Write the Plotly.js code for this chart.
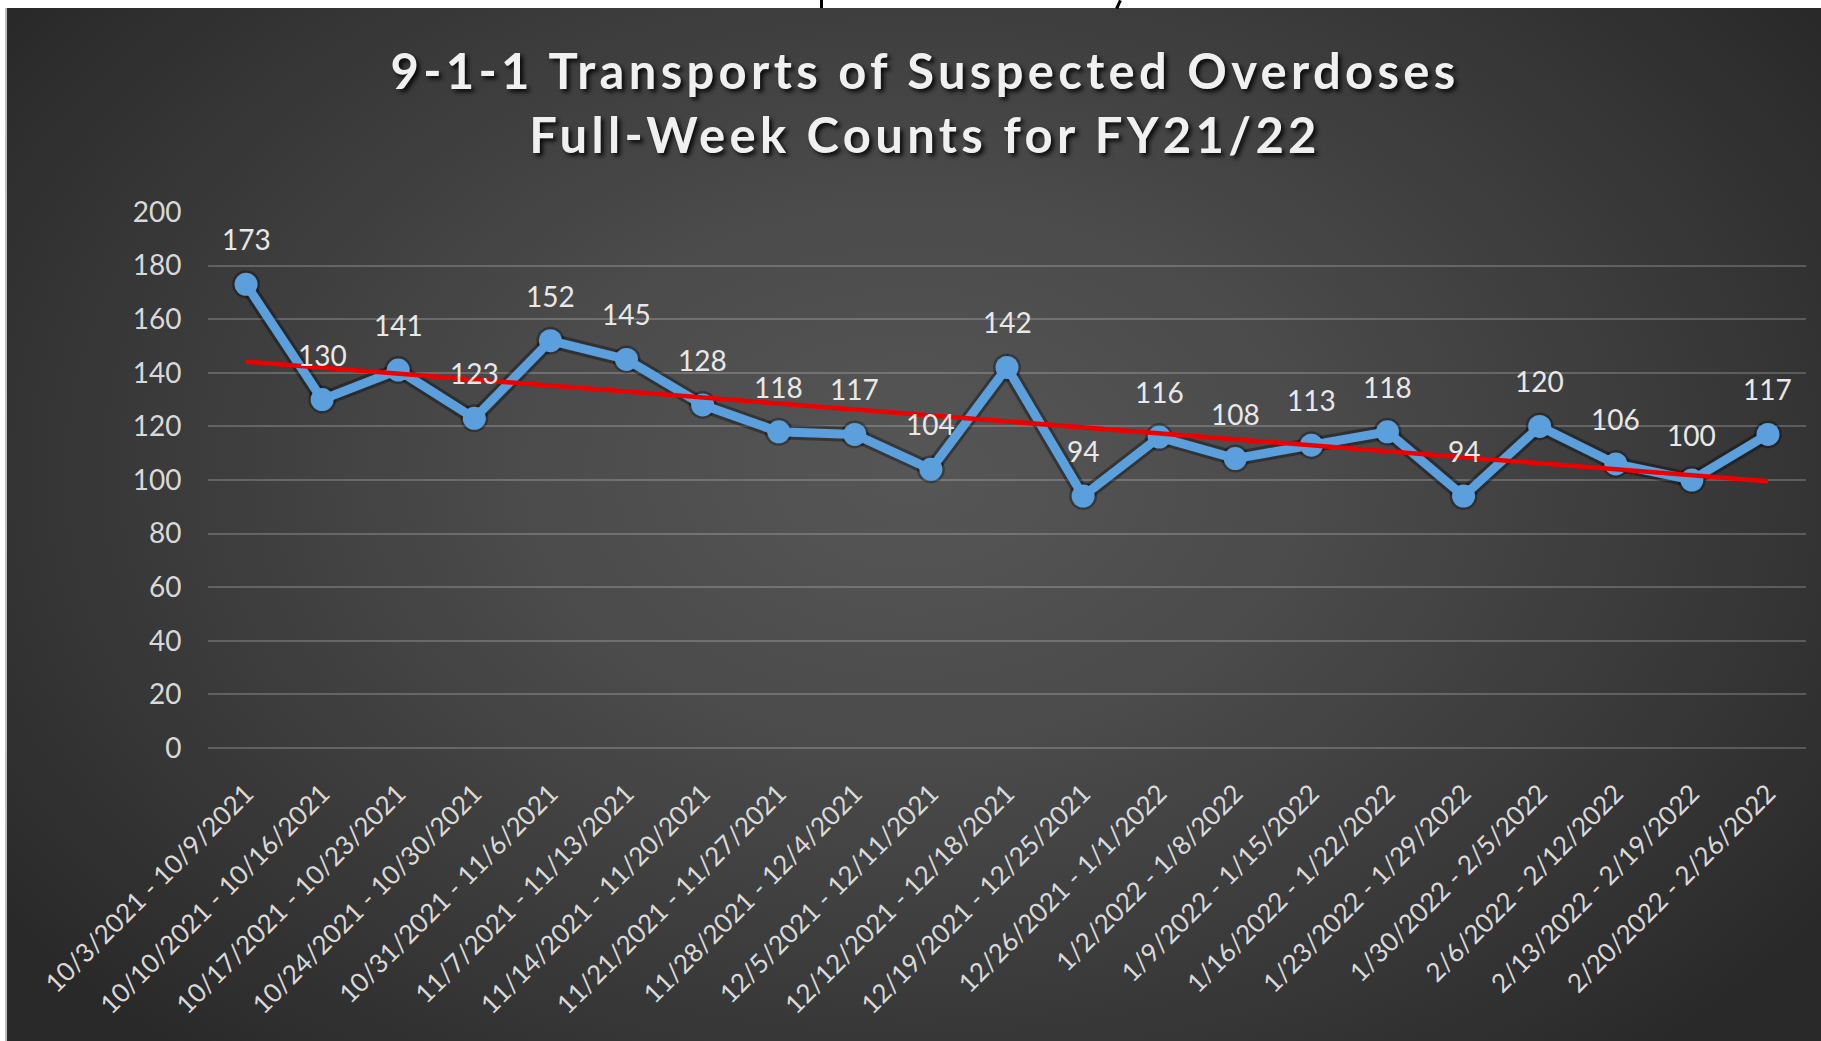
<!DOCTYPE html>
<html>
<head>
<meta charset="utf-8">
<script src="https://cdn.plot.ly/plotly-3.0.1.min.js"></script>
<style>
  html, body { margin: 0; padding: 0; background: #ffffff; }
  #chart {
    width: 1821px; height: 1041px; position: relative;
    background:
      radial-gradient(ellipse 62% 75% at 50% 45%, #565656 0%, #4b4b4b 35%, #393939 70%, #292929 100%) no-repeat 7px 8px / 1814px 1033px,
      #ffffff;
  }
  #chart .gtitle { letter-spacing: 4.3px; }
  #edge { position: absolute; left: 5px; top: 8px; width: 2px; height: 1033px; background: #bdbdbd; z-index: 5; }
  #frag1 { position: absolute; left: 820px; top: 0; width: 3px; height: 8px; background: #000; z-index: 5; }
  #frag2 { position: absolute; left: 1117px; top: 0; width: 3px; height: 9px; background: #000; transform: rotate(25deg); z-index: 5; }
</style>
</head>
<body>
<div id="chart"></div>
<div id="edge"></div>
<div id="frag1"></div>
<div id="frag2"></div>
<script>
// ---- data ----
const weeks = [
  "10/3/2021 - 10/9/2021", "10/10/2021 - 10/16/2021", "10/17/2021 - 10/23/2021",
  "10/24/2021 - 10/30/2021", "10/31/2021 - 11/6/2021", "11/7/2021 - 11/13/2021",
  "11/14/2021 - 11/20/2021", "11/21/2021 - 11/27/2021", "11/28/2021 - 12/4/2021",
  "12/5/2021 - 12/11/2021", "12/12/2021 - 12/18/2021", "12/19/2021 - 12/25/2021",
  "12/26/2021 - 1/1/2022", "1/2/2022 - 1/8/2022", "1/9/2022 - 1/15/2022",
  "1/16/2022 - 1/22/2022", "1/23/2022 - 1/29/2022", "1/30/2022 - 2/5/2022",
  "2/6/2022 - 2/12/2022", "2/13/2022 - 2/19/2022", "2/20/2022 - 2/26/2022"
];
const transports = [173, 130, 141, 123, 152, 145, 128, 118, 117, 104, 142, 94,
                    116, 108, 113, 118, 94, 120, 106, 100, 117];
const yTicks = [0, 20, 40, 60, 80, 100, 120, 140, 160, 180, 200];
const titleLines = ["9-1-1 Transports of Suspected Overdoses", "Full-Week Counts for FY21/22"];

// ---- linear trendline (least squares over week index) ----
const n = transports.length;
const idx = transports.map((_, i) => i);
const mx = idx.reduce((a, b) => a + b, 0) / n;
const my = transports.reduce((a, b) => a + b, 0) / n;
let sxy = 0, sxx = 0;
for (let i = 0; i < n; i++) { sxy += (idx[i] - mx) * (transports[i] - my); sxx += (idx[i] - mx) ** 2; }
const slope = sxy / sxx, intercept = my - slope * mx;
const trendX = [weeks[0], weeks[n - 1]];
const trendY = [intercept, intercept + slope * (n - 1)];

const FONT = "Lato, 'Noto Sans', sans-serif";
const labelFont = { family: FONT, size: 28, color: "#e8e8e8" };

const traces = [
  { // soft shadow under the series line
    x: weeks, y: transports, type: "scatter", mode: "lines+markers",
    line: { color: "rgba(0,0,0,0.35)", width: 15 },
    marker: { size: 28, color: "rgba(0,0,0,0.3)" },
    hoverinfo: "skip", showlegend: false
  },
  {
    x: weeks, y: transports, type: "scatter", mode: "lines+markers",
    line: { color: "#5b9fdc", width: 9 },
    marker: { size: 23, color: "#5b9fdc" },
    showlegend: false
  },
  {
    x: trendX, y: trendY, type: "scatter", mode: "lines",
    line: { color: "#ee0000", width: 4.5 },
    showlegend: false
  }
];

const annotations = weeks.map((w, i) => ({
  x: w, y: transports[i], xref: "x", yref: "y",
  text: String(transports[i]), showarrow: false, yshift: 45, font: labelFont
}));

const layout = {
  width: 1821, height: 1041,
  paper_bgcolor: "rgba(0,0,0,0)", plot_bgcolor: "rgba(0,0,0,0)",
  margin: { l: 208, r: 15, t: 212, b: 293 },
  title: {
    text: titleLines.join("<br>"),
    x: 0.508, xanchor: "center", xref: "container", yref: "container", y: 0.9145, yanchor: "top",
    font: { family: FONT, size: 49, weight: 700, color: "#f0f0f0",
            shadow: "3px 3px 4px rgba(0,0,0,0.85)" }
  },
  xaxis: {
    type: "category", tickangle: -45, range: [-0.5, weeks.length - 0.5],
    showgrid: false, zeroline: false, showline: false,
    ticks: "outside", ticklen: 19, tickcolor: "rgba(0,0,0,0)",
    tickfont: { family: FONT, size: 26, color: "#d9d9d9" },
    automargin: false
  },
  yaxis: {
    range: [0, 200], tickvals: yTicks, ticktext: yTicks.map(String),
    showgrid: true, gridcolor: "rgba(255,255,255,0.2)", gridwidth: 2,
    zeroline: true, zerolinecolor: "rgba(255,255,255,0.2)", zerolinewidth: 2,
    showline: false,
    ticks: "outside", ticklen: 20, tickcolor: "rgba(0,0,0,0)",
    tickfont: { family: FONT, size: 28, color: "#d9d9d9" },
    automargin: false
  },
  annotations: annotations,
  showlegend: false
};

Plotly.newPlot("chart", traces, layout, { displayModeBar: false, staticPlot: true });
</script>
</body>
</html>
